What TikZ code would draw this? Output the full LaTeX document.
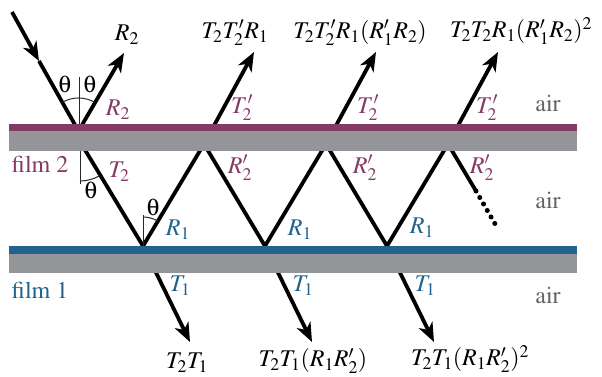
\documentclass[tikz,border=0pt]{standalone}
\usepackage[T1]{fontenc}
\usepackage{mathptmx}
\usetikzlibrary{arrows.meta}
\definecolor{filmpurple}{RGB}{132,58,100}
\definecolor{filmblue}{RGB}{33,99,140}
\definecolor{filmgray}{RGB}{147,149,153}
\definecolor{airgray}{RGB}{100,100,100}
\newcommand{\uptheta}{{\usefont{U}{psy}{m}{n}q}}
\begin{document}
\begin{tikzpicture}[x=1pt,y=-1pt,
  ray/.style={line width=3.8pt},
  tipped/.style={-{Stealth[length=19pt,width=15pt,inset=5.5pt]}},
  normalline/.style={line width=1pt,draw=black!85},
  lbl/.style={inner sep=0pt,font=\fontsize{24}{28}\selectfont},
  purp/.style={lbl,text=filmpurple},
  blu/.style={lbl,text=filmblue},
  airlbl/.style={lbl,text=airgray}]
\useasboundingbox (0,0) rectangle (602,377);
% key points
\coordinate (s) at (12,12);
\coordinate (m) at (39,61);
\coordinate (v0) at (78.5,131);
\coordinate (tr) at (76,135);
\coordinate (b1) at (143,246);
\coordinate (b2) at (265,246);
\coordinate (b3) at (387,246);
\coordinate (t1) at (204,144);
\coordinate (t2) at (326,144);
\coordinate (t3) at (448,144);
\coordinate (r2tip) at (124,53);
\coordinate (p1) at (254,52);
\coordinate (p2) at (376,52);
\coordinate (p3) at (498,52);
\coordinate (q1) at (190,342);
\coordinate (q2) at (312,342);
\coordinate (q3) at (434,342);
\coordinate (d0) at (476,191);
\coordinate (d1) at (498,229);
% rays
\draw[ray,tipped] (s) -- (m);
\draw[ray] (m) -- (v0);
\draw[ray,tipped] (v0) -- (r2tip);
\draw[ray] (tr) -- (b1) -- (t1) -- (b2) -- (t2) -- (b3) -- (t3) -- (d0);
\draw[ray,line cap=round,dash pattern=on 0pt off 7.5pt,line width=5pt] (d0) -- (d1);
\draw[ray,tipped] (t1) -- (p1);
\draw[ray,tipped] (t2) -- (p2);
\draw[ray,tipped] (t3) -- (p3);
\draw[ray,tipped] (b1) -- (q1);
\draw[ray,tipped] (b2) -- (q2);
\draw[ray,tipped] (b3) -- (q3);
% films
\fill[filmpurple] (9,124) rectangle (577,131.5);
\fill[filmgray] (9,131.5) rectangle (577,151);
\fill[filmblue] (9,246) rectangle (577,253.5);
\fill[filmgray] (9,253.5) rectangle (577,273);
% normals and angles
\draw[normalline] (79,77) -- (79,124);
\draw[normalline] (v0) ++(-120:33) arc[start angle=-120,end angle=-60,radius=33];
\draw[normalline] (80,151) -- (80,184);
\draw[normalline] (80,142) ++(90:39) arc[start angle=90,end angle=59,radius=39];
\draw[normalline] (143,215) -- (143,246);
\draw[normalline] (b1) ++(-90:29) arc[start angle=-90,end angle=-59,radius=29];
\node[lbl] (th1) at (65,84) {\uptheta};
\node[lbl] (th2) at (90,84) {\uptheta};
\node[lbl] (th3) at (91,190) {\uptheta};
\node[lbl] (th4) at (153,207) {\uptheta};
% top labels
\node[lbl] (lR2) at (127,35) {$R_2$};
\node[lbl] (lA) at (235,33) {$T_2T'_2R_1$};
\node[lbl] (lB) at (360,33) {$T_2T'_2R_1(R'_1R_2)$};
\node[lbl] (lC) at (521,31) {$T_2T_2R_1(R'_1R_2)^2$};
% film labels
\node[purp] (cR2) at (118,110) {$R_2$};
\node[purp] (cT2a) at (242,108) {$T'_2$};
\node[purp] (cT2b) at (368,108) {$T'_2$};
\node[purp] (cT2c) at (487,108) {$T'_2$};
\node[purp] (cT2) at (119,172) {$T_2$};
\node[purp] (cR2a) at (240,168) {$R'_2$};
\node[purp] (cR2b) at (365,168) {$R'_2$};
\node[purp] (cR2c) at (482,168) {$R'_2$};
\node[blu] (cR1a) at (178,230) {$R_1$};
\node[blu] (cR1b) at (300,230) {$R_1$};
\node[blu] (cR1c) at (422,228) {$R_1$};
\node[blu] (cT1a) at (180,286) {$T_1$};
\node[blu] (cT1b) at (303,286) {$T_1$};
\node[blu] (cT1c) at (425,286) {$T_1$};
\node[purp] (f2) at (40,164) {film 2};
\node[blu] (f1) at (40,290) {film 1};
\node[airlbl] (air1) at (548,103) {air};
\node[airlbl] (air2) at (548,200) {air};
\node[airlbl] (air3) at (548,295) {air};
% bottom labels
\node[lbl] (lD) at (187,363) {$T_2T_1$};
\node[lbl] (lE) at (313,361) {$T_2T_1(R_1R'_2)$};
\node[lbl] (lF) at (470,359) {$T_2T_1(R_1R'_2)^2$};
\end{tikzpicture}
\end{document}
